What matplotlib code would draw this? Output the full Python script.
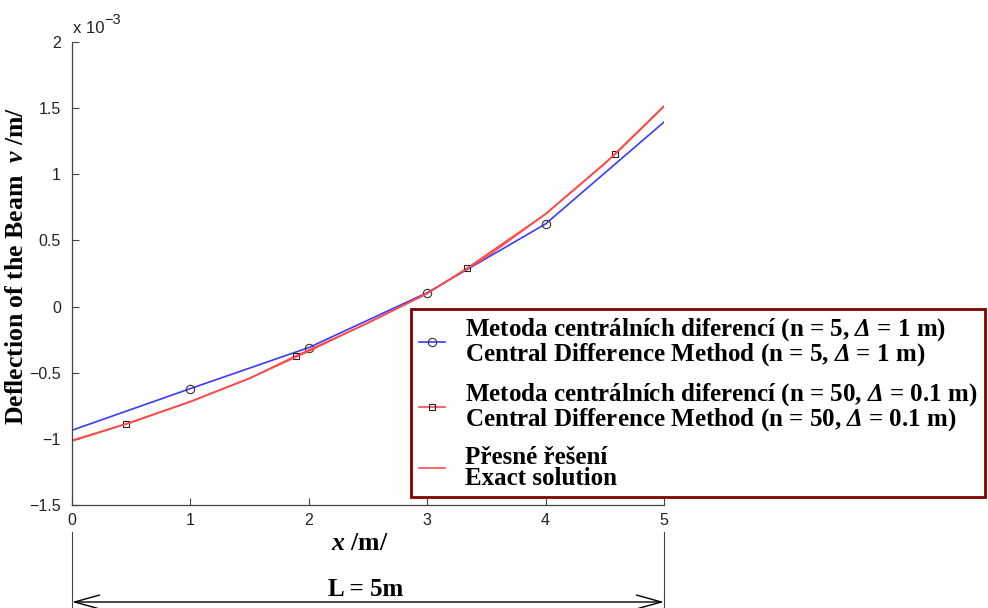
import numpy as np
import matplotlib
matplotlib.use('Agg')
import matplotlib.pyplot as plt
from matplotlib.patches import FancyArrowPatch

plt.rcParams['mathtext.fontset'] = 'custom'
plt.rcParams['mathtext.rm'] = 'Liberation Serif:bold:italic'
plt.rcParams['mathtext.it'] = 'Liberation Serif:bold:italic'
plt.rcParams['mathtext.bf'] = 'Liberation Serif:bold'

# deflection values are in units of 10^-3 m
x_cd5 = [0.0, 1.0, 2.0, 3.0, 4.0, 5.0]
v_cd5 = [-0.935, -0.62, -0.31, 0.105, 0.625, 1.395]

x_cd50 = [0.0, 0.46, 1.0, 1.5, 1.89, 2.5, 3.0, 3.34, 4.0, 4.59, 5.0]
v_cd50 = [-1.012, -0.886, -0.718, -0.543, -0.373, -0.124, 0.098, 0.292, 0.700, 1.153, 1.512]

x_exact = [0.0, 0.5, 1.0, 1.5, 2.0, 2.5, 3.0, 3.5, 4.0, 4.5, 5.0]
v_exact = [-1.016, -0.876, -0.719, -0.542, -0.337, -0.122, 0.100, 0.375, 0.700, 1.080, 1.516]

labels = [
    'Metoda centrálních diferencí (n = 5, $\\Delta$ = 1 m)\n'
    'Central Difference Method (n = 5, $\\Delta$ = 1 m)',
    'Metoda centrálních diferencí (n = 50, $\\Delta$ = 0.1 m)\n'
    'Central Difference Method (n = 50, $\\Delta$ = 0.1 m)',
    'Přesné řešení\nExact solution',
]

W, H = 988, 608
fig = plt.figure(figsize=(W / 100, H / 100), dpi=100)
ax = fig.add_axes([72 / W, 1 - 505 / H, 592 / W, 463 / H])

ax.plot(x_cd5, v_cd5, color='#3a3aff', lw=1.2, marker='o', markevery=[1, 2, 3, 4],
        ms=6, mfc='none', mec='#333333', mew=0.8, label=labels[0])
ax.plot(x_cd50, v_cd50, color='#ff4a4a', lw=1.2, marker='s', markevery=[1, 4, 7, 9],
        ms=5, mfc='none', mec='#222222', mew=0.8, label=labels[1])
ax.plot(x_exact, v_exact, color='#ff4a4a', lw=1.2, label=labels[2])

ax.set_xlim(0, 5)
ax.set_ylim(-1.5, 2)
ax.set_xticks(np.arange(0, 6, 1))
ax.set_yticks(np.arange(-1.5, 2.01, 0.5))
ax.set_yticklabels(['\u22121.5', '\u22121', '\u22120.5', '0', '0.5', '1', '1.5', '2'])
for s in ['top', 'right']:
    ax.spines[s].set_visible(False)
for s in ['left', 'bottom']:
    ax.spines[s].set_color('#444444')
    ax.spines[s].set_linewidth(0.9)
ax.tick_params(direction='in', length=5, width=0.8, color='#444444',
               labelsize=11.5, labelcolor='#222222')
ax.tick_params(axis='y', pad=8)
ax.tick_params(axis='x', pad=6)
for t in ax.get_xticklabels() + ax.get_yticklabels():
    t.set_family('Liberation Sans')

# scale factor of the y axis
fig.text(73 / W, 1 - 33 / H, 'x 10', fontsize=12, family='Liberation Sans',
         color='#222222', va='baseline')
fig.text(104 / W, 1 - 24 / H, '\u22123', fontsize=10.5, family='Liberation Sans',
         color='#222222', va='baseline')

serif = dict(family='Liberation Serif', weight='bold')
fig.text(17 / W, 1 - 266 / H, 'Deflection of the Beam  $v$ /m/', rotation=90,
         ha='center', va='center', fontsize=18.5, **serif)
fig.text(360 / W, 1 - 544 / H, '$x$ /m/', ha='center', va='center', fontsize=18.5, **serif)

leg = ax.legend(loc='upper left', bbox_to_anchor=(411 / W, 1 - 309 / H, 574 / W, 0),
                bbox_transform=fig.transFigure, mode='expand', borderaxespad=0,
                prop=dict(family='Liberation Serif', weight='bold', size=18),
                handlelength=1.05, handletextpad=0.8, labelspacing=0.55,
                borderpad=0.3, fancybox=False, framealpha=1)
leg.get_frame().set_edgecolor('#800000')
leg.get_frame().set_linewidth(2)
for t in leg.get_texts():
    t.set_linespacing(0.87)

# span of the beam drawn under the axis
to_fig = fig.transFigure.inverted()
x0f = to_fig.transform(ax.transData.transform((0, 0)))[0]
x5f = to_fig.transform(ax.transData.transform((5, 0)))[0]
for xf in [x0f, x5f]:
    fig.add_artist(plt.Line2D([xf, xf], [0, 1 - 532 / H], transform=fig.transFigure,
                              color='#444444', lw=0.8))
y_arrow = 1 - 602 / H
fig.add_artist(FancyArrowPatch(
    (x0f, y_arrow), (x5f, y_arrow), transform=fig.transFigure,
    arrowstyle='<->,head_length=18,head_width=5', color='black', lw=1.0,
    shrinkA=0, shrinkB=0))
fig.text(366 / W, 1 - 590 / H, 'L = 5m', ha='center', va='center', fontsize=18, **serif)

fig.savefig('out.png', dpi=100)
